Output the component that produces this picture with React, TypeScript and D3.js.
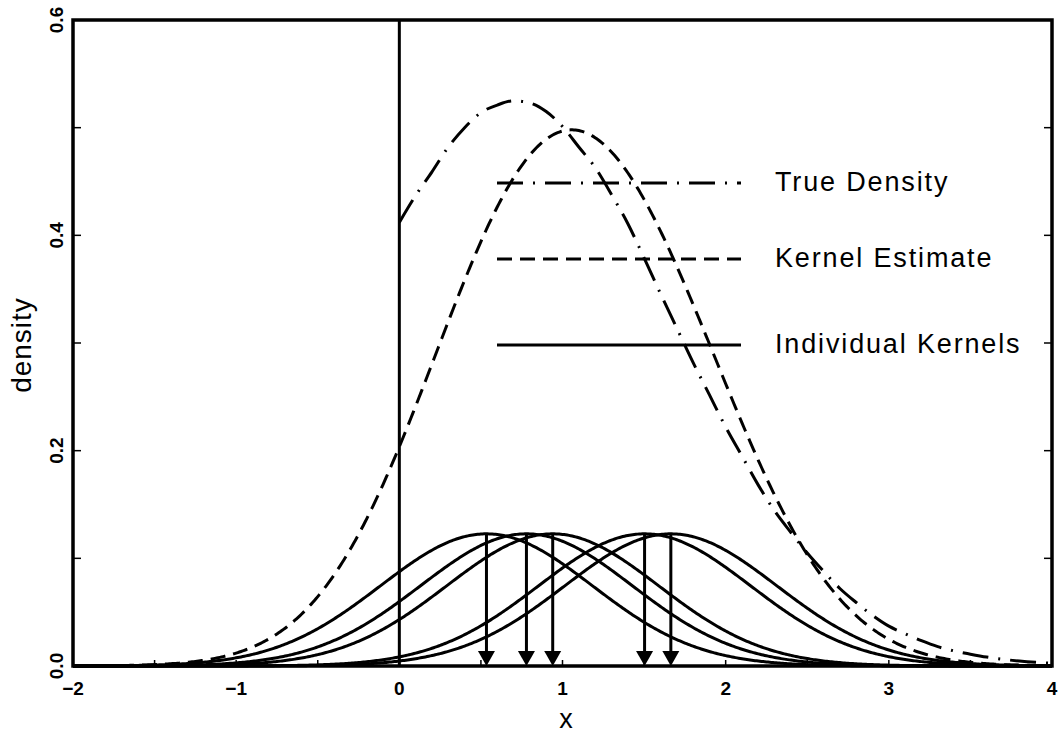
import React from "react";
import * as d3 from "d3";

// Sample observations (marked by arrows) and the Gaussian kernel bandwidth
const samplePoints = [0.534, 0.779, 0.94, 1.503, 1.664];
const bandwidth = 0.65;

// True density, tabulated on x = 0.0, 0.1, ..., 4.0
const trueX = d3.range(0, 41).map((i) => i / 10);
const trueDensity = [
  0.412, 0.437, 0.459, 0.482, 0.5, 0.514, 0.521, 0.525, 0.523, 0.515,
  0.501, 0.482, 0.463, 0.438, 0.411, 0.379, 0.346, 0.314, 0.282, 0.252,
  0.222, 0.195, 0.168, 0.144, 0.124, 0.105, 0.088, 0.072, 0.059, 0.047,
  0.037, 0.03, 0.0235, 0.018, 0.014, 0.011, 0.0083, 0.0062, 0.0046, 0.0034,
  0.0025,
];

const xTickLabels = [-2, -1, 0, 1, 2, 3, 4];
const yTickLabels = [0, 0.2, 0.4, 0.6];
const legendLabels = ["True Density", "Kernel Estimate", "Individual Kernels"];

const W = 1060;
const H = 740;
const plot = { left: 73, right: 1052, top: 20, bottom: 666 };

const DASH = "15 8";
const DASH_DOT = "26 10 2 10";
const FONT = "Liberation Sans, Arial, sans-serif";

export default function App() {
  const x = d3.scaleLinear().domain([-2, 4]).range([plot.left, plot.right]);
  const y = d3.scaleLinear().domain([0, 0.6]).range([plot.bottom, plot.top]);

  const n = samplePoints.length;
  const grid = d3.range(-2, 4.0001, 0.01);
  const kernelAt = (xi: number, t: number) =>
    Math.exp(-0.5 * ((t - xi) / bandwidth) ** 2) / (bandwidth * Math.sqrt(2 * Math.PI) * n);

  const line = d3
    .line<[number, number]>()
    .x((d) => x(d[0]))
    .y((d) => y(d[1]));

  const kernels = samplePoints.map((xi) => grid.map((t) => [t, kernelAt(xi, t)] as [number, number]));
  const estimate = grid.map(
    (t) => [t, d3.sum(samplePoints, (xi) => kernelAt(xi, t))] as [number, number]
  );
  const truth = trueX.map((t, i) => [t, trueDensity[i]] as [number, number]);
  const trueLine = d3
    .line<[number, number]>()
    .x((d) => x(d[0]))
    .y((d) => y(d[1]))
    .curve(d3.curveMonotoneX);

  const peak = kernelAt(0, 0);
  const arrowH = 15;
  const arrowW = 8.5;

  const xMinor = d3.range(-2, 4.0001, 0.5);
  const yMinor = d3.range(0, 0.6001, 0.1);

  const legendY = [183, 259, 345];
  const legendDash = [DASH_DOT, DASH, undefined];

  const tickFont = { fontFamily: FONT, fontWeight: 700 as const, fontSize: 19 };
  const SW = 3;

  return (
    <svg
      width={W}
      height={H}
      style={{ position: "absolute", left: 0, top: 0, background: "#fff" }}
    >
      <rect x={0} y={0} width={W} height={H} fill="#fff" />

      {/* vertical reference at x = 0 */}
      <line x1={x(0)} x2={x(0)} y1={plot.top} y2={plot.bottom} stroke="#000" strokeWidth={SW} />

      {/* individual kernels */}
      {kernels.map((k, i) => (
        <path key={i} d={line(k) ?? ""} fill="none" stroke="#000" strokeWidth={SW} />
      ))}

      {/* kernel estimate */}
      <path d={line(estimate) ?? ""} fill="none" stroke="#000" strokeWidth={SW} strokeDasharray={DASH} />

      {/* true density */}
      <path d={trueLine(truth) ?? ""} fill="none" stroke="#000" strokeWidth={SW} strokeDasharray={DASH_DOT} />

      {/* arrows at the observations */}
      {samplePoints.map((xi, i) => (
        <g key={i}>
          <line
            x1={x(xi)}
            x2={x(xi)}
            y1={y(peak)}
            y2={plot.bottom - arrowH + 1}
            stroke="#000"
            strokeWidth={SW}
          />
          <path
            d={`M${x(xi) - arrowW},${plot.bottom - arrowH} L${x(xi) + arrowW},${plot.bottom - arrowH} L${x(xi)},${plot.bottom} Z`}
            fill="#000"
          />
        </g>
      ))}

      {/* frame and inward ticks */}
      <rect
        x={plot.left}
        y={plot.top}
        width={plot.right - plot.left}
        height={plot.bottom - plot.top}
        fill="none"
        stroke="#000"
        strokeWidth={3.5}
      />
      {xMinor.map((v, i) => (
        <line key={`xt${i}`} x1={x(v)} x2={x(v)} y1={plot.bottom} y2={plot.bottom - 6} stroke="#000" strokeWidth={1.5} />
      ))}
      {yMinor.map((v, i) => (
        <g key={`yt${i}`}>
          <line x1={plot.left} x2={plot.left + 8} y1={y(v)} y2={y(v)} stroke="#000" strokeWidth={1.5} />
          <line x1={plot.right} x2={plot.right - 8} y1={y(v)} y2={y(v)} stroke="#000" strokeWidth={1.5} />
        </g>
      ))}

      {/* tick labels */}
      {xTickLabels.map((v) => (
        <text key={`xl${v}`} x={x(v)} y={695} textAnchor="middle" {...tickFont}>
          {v < 0 ? `\u2212${Math.abs(v)}` : v}
        </text>
      ))}
      {yTickLabels.map((v) => (
        <text
          key={`yl${v}`}
          transform={`translate(63,${y(v)}) rotate(-90)`}
          textAnchor="middle"
          {...tickFont}
        >
          {d3.format(".1f")(v)}
        </text>
      ))}

      {/* axis titles */}
      <text x={566} y={728} textAnchor="middle" fontFamily={FONT} fontSize={27}>
        x
      </text>
      <text transform={`translate(31,345) rotate(-90)`} textAnchor="middle" fontFamily={FONT} fontSize={28} letterSpacing={1}>
        density
      </text>

      {/* legend */}
      {legendLabels.map((label, i) => (
        <g key={label}>
          <line
            x1={497}
            x2={741}
            y1={legendY[i]}
            y2={legendY[i]}
            stroke="#000"
            strokeWidth={SW}
            strokeDasharray={legendDash[i]}
          />
          <text x={775} y={legendY[i] + 8} fontFamily={FONT} fontSize={27} letterSpacing={1.85}>
            {label}
          </text>
        </g>
      ))}
    </svg>
  );
}
